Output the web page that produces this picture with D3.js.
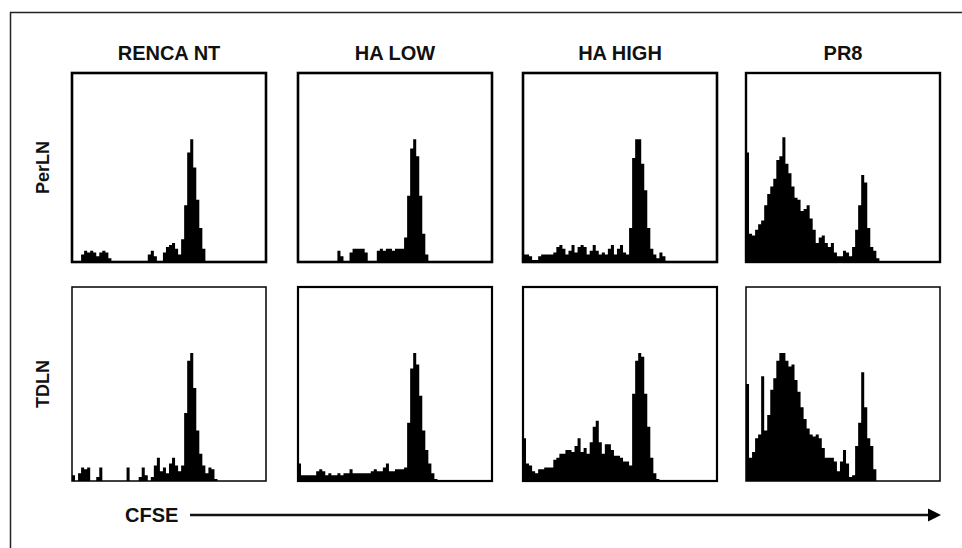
<!DOCTYPE html>
<html>
<head>
<meta charset="utf-8">
<script src="https://cdn.jsdelivr.net/npm/d3@7"></script>
<style>
  body { margin: 0; background: #fff; }
  text { font-family: "Liberation Sans", Arial, sans-serif; font-weight: bold; fill: #111; }
</style>
</head>
<body>
<div id="chart"></div>
<script>
// column / row labels
const columns = ['RENCA NT', 'HA LOW', 'HA HIGH', 'PR8'];
const rows = ['PerLN', 'TDLN'];

// CFSE histograms, % of panel height per channel bin (64 bins across the axis)
const perlnRenca = [0,0,0,4,6,5,6,5,3,5,6,5,2,0,0,0,0,0,0,0,0,0,0,0,0,4,6,3,0,0,5,8,9,10,7,4,12,30,58,65,50,33,18,7];
const perlnLow   = [0,0,0,0,0,0,0,0,0,0,0,0,0,6,3,0,0,5,7,7,7,7,5,0,0,0,6,7,6,7,7,6,7,7,7,13,35,60,65,56,35,15,4];
const perlnHigh  = [4,4,3,1,1,3,4,4,4,4,5,8,9,7,4,6,9,5,8,9,8,4,6,9,6,4,5,4,7,9,4,7,9,5,4,18,55,65,65,52,38,18,7,4,2,5,3];
const perlnPR8   = [58,15,14,17,20,22,30,36,40,44,54,56,66,52,47,40,34,33,27,28,30,23,17,10,13,14,10,8,10,5,3,3,6,5,3,8,17,30,46,42,18,8,6,2];

const tdlnRenca = [3,0,4,7,6,7,0,0,2,7,0,0,0,0,0,0,0,0,7,0,0,0,2,7,3,0,2,8,12,5,7,4,9,12,8,5,8,35,62,66,48,26,14,8,4,7,6,1];
const tdlnLow   = [9,3,3,3,3,3,5,6,5,3,4,3,3,4,3,4,4,6,4,4,4,4,4,4,5,6,5,5,7,9,5,5,6,6,6,7,30,58,66,60,44,26,16,9,4,1];
const tdlnHigh  = [22,9,8,5,4,6,6,7,7,7,11,12,14,14,16,16,15,18,22,15,17,14,20,28,31,20,14,19,19,16,13,13,12,10,10,8,45,62,66,64,45,28,12,4,1];
const tdlnPR8   = [50,12,15,22,24,54,26,34,47,53,62,66,66,62,59,60,52,46,38,32,27,24,23,24,22,17,12,12,12,10,5,10,16,9,2,3,18,30,56,38,22,18,6];

const histograms = [
    [perlnRenca, perlnLow, perlnHigh, perlnPR8],
    [tdlnRenca, tdlnLow, tdlnHigh, tdlnPR8]
];
const nBins = 64;

const w = 962;
const h = 548;
const panelW = 194;
const colLeft = [72, 298, 523, 746];
const rowTop = [73, 287];
const rowH = [189, 194];
const strokeW = [[2.6, 2.6, 2.6, 2.4], [1.5, 2.2, 2.2, 1.5]];

const colX = d3.scaleOrdinal().domain(columns).range(colLeft);

const svg = d3.select('#chart')
    .append('svg')
    .attr('width', w)
    .attr('height', h);

// outer frame (only left and top visible)
svg.append('path')
    .attr('d', `M10.5,${h} L10.5,12.5 L${w},12.5`)
    .attr('fill', 'none')
    .attr('stroke', '#222')
    .attr('stroke-width', 1.5);

// column titles
svg.selectAll('.col-title')
    .data(columns)
    .enter()
    .append('text')
    .attr('class', 'col-title')
    .attr('x', d => colX(d) + panelW / 2)
    .attr('y', 60)
    .attr('text-anchor', 'middle')
    .style('font-size', '20px')
    .text(d => d);

// row labels
svg.selectAll('.row-title')
    .data(rows)
    .enter()
    .append('text')
    .attr('class', 'row-title')
    .attr('transform', (d, i) => `translate(49, ${rowTop[i] + rowH[i] / 2}) rotate(-90)`)
    .attr('text-anchor', 'middle')
    .style('font-size', '18px')
    .text(d => d);

rows.forEach((row, r) => {
    columns.forEach((col, c) => {
        const left = colX(col);
        const data = histograms[r][c];

        const x = d3.scaleLinear()
            .domain([0, nBins])
            .range([left, left + panelW]);
        const y = d3.scaleLinear()
            .domain([0, 100])
            .range([rowTop[r] + rowH[r], rowTop[r]]);

        // step points: each bin held until the next, closed at the last bin edge
        const pts = data.map((v, i) => [i, v]);
        pts.push([data.length, data[data.length - 1]]);

        const area = d3.area()
            .x(d => x(d[0]))
            .y0(y(0))
            .y1(d => y(d[1]))
            .curve(d3.curveStepAfter);

        svg.append('path')
            .datum(pts)
            .attr('d', area)
            .attr('fill', '#000');

        svg.append('rect')
            .attr('x', left)
            .attr('y', rowTop[r])
            .attr('width', panelW)
            .attr('height', rowH[r])
            .attr('fill', 'none')
            .attr('stroke', '#000')
            .attr('stroke-width', strokeW[r][c]);
    });
});

// CFSE axis arrow
svg.append('text')
    .attr('x', 125)
    .attr('y', 522)
    .style('font-size', '20px')
    .text('CFSE');

svg.append('line')
    .attr('x1', 190)
    .attr('x2', 930)
    .attr('y1', 515)
    .attr('y2', 515)
    .attr('stroke', '#111')
    .attr('stroke-width', 2.5);

svg.append('path')
    .attr('d', 'M928,508.5 L941,515 L928,521.5 Z')
    .attr('fill', '#000');
</script>
</body>
</html>
